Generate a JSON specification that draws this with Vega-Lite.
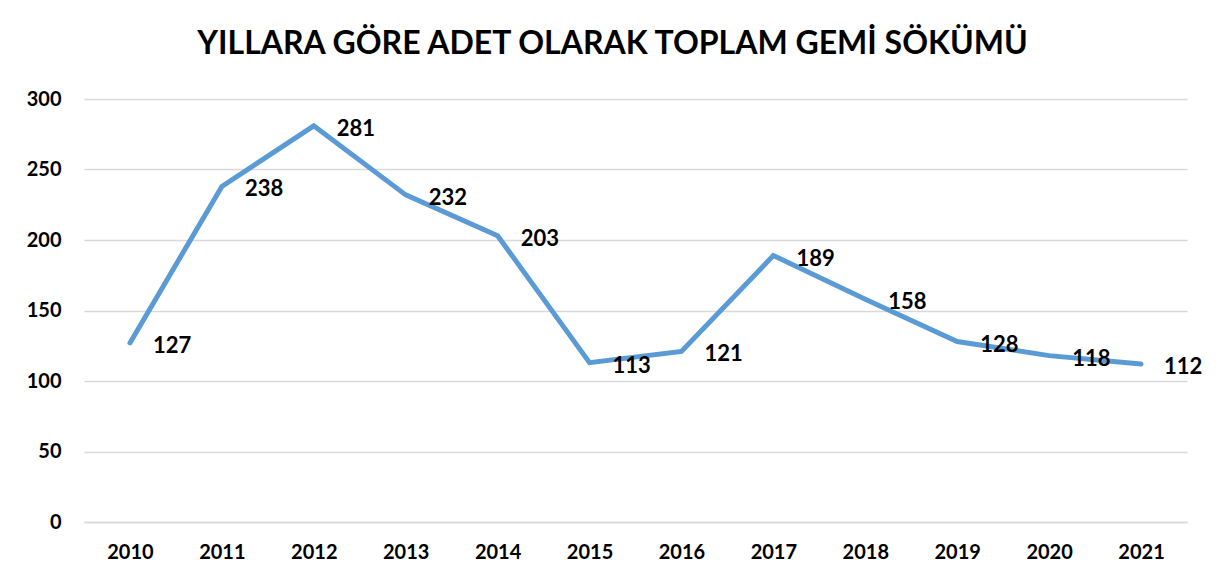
{
  "$schema": "https://vega.github.io/schema/vega-lite/v6.json",
  "autosize": {"type": "none"},
  "width": 1103,
  "height": 423,
  "padding": {"left": 84, "top": 99, "right": 32, "bottom": 63},
  "background": "white",
  "title": {
    "text": "YILLARA GÖRE ADET OLARAK TOPLAM GEMİ SÖKÜMÜ",
    "font": "Lato",
    "fontSize": 32,
    "fontWeight": "bold",
    "color": "#000000",
    "anchor": "middle",
    "frame": "group",
    "dx": -23,
    "offset": 28
  },
  "data": {
    "values": [
      {"year": "2010", "count": 127},
      {"year": "2011", "count": 238},
      {"year": "2012", "count": 281},
      {"year": "2013", "count": 232},
      {"year": "2014", "count": 203},
      {"year": "2015", "count": 113},
      {"year": "2016", "count": 121},
      {"year": "2017", "count": 189},
      {"year": "2018", "count": 158},
      {"year": "2019", "count": 128},
      {"year": "2020", "count": 118},
      {"year": "2021", "count": 112}
    ]
  },
  "encoding": {
    "x": {
      "field": "year",
      "type": "ordinal",
      "scale": {"type": "point", "padding": 0.5},
      "axis": {
        "title": null,
        "labelAngle": 0,
        "labelFont": "Lato",
        "labelFontSize": 20,
        "labelFontWeight": "bold",
        "labelColor": "#000000",
        "labelPadding": 20,
        "ticks": false,
        "domain": true,
        "domainColor": "#d9d9d9",
        "domainWidth": 1.5,
        "grid": false
      }
    },
    "y": {
      "field": "count",
      "type": "quantitative",
      "scale": {"domain": [0, 300], "nice": false},
      "axis": {
        "title": null,
        "values": [0, 50, 100, 150, 200, 250, 300],
        "labelFont": "Lato",
        "labelFontSize": 20,
        "labelFontWeight": "bold",
        "labelColor": "#000000",
        "labelPadding": 23,
        "ticks": false,
        "domain": false,
        "grid": true,
        "gridColor": "#d9d9d9",
        "gridWidth": 1.5
      }
    }
  },
  "layer": [
    {
      "mark": {"type": "line", "color": "#5B9BD5", "strokeWidth": 5, "strokeCap": "round"}
    },
    {
      "mark": {
        "type": "text",
        "align": "left",
        "baseline": "middle",
        "dx": 23,
        "dy": 3,
        "font": "Lato",
        "fontSize": 22,
        "fontWeight": "bold",
        "color": "#000000"
      },
      "encoding": {"text": {"field": "count", "type": "quantitative"}}
    }
  ],
  "config": {"view": {"stroke": null}}
}
